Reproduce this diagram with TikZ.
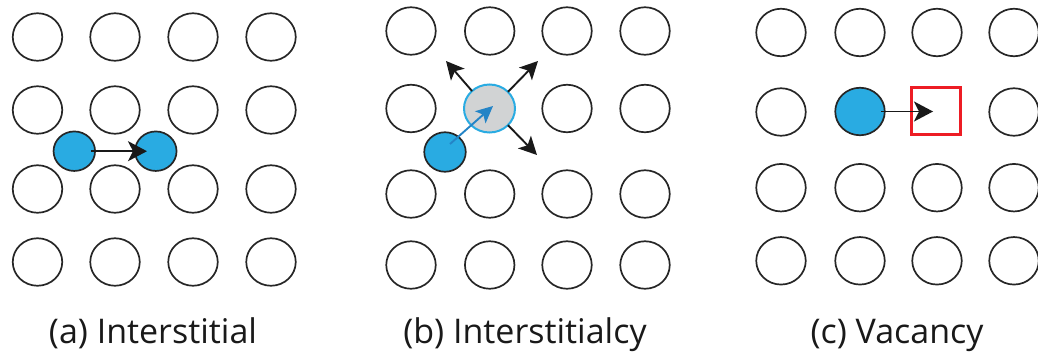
\documentclass[tikz,border=0pt]{standalone}
\usepackage{fontspec}
\setmainfont{Open Sans}
\usetikzlibrary{shapes.geometric,arrows.meta}
\definecolor{atomblue}{HTML}{29ABE2}
\definecolor{arrowblue}{HTML}{2484C6}
\definecolor{siltgray}{HTML}{D1D3D4}
\definecolor{vacred}{HTML}{ED1C24}
\tikzset{
  atom/.style={ellipse, draw=black!85, line width=1.7pt, minimum width=49.5pt, minimum height=47.5pt, inner sep=0pt, outer sep=0pt},
  moving/.style={ellipse, draw=black!85, fill=atomblue, line width=1.7pt, minimum width=41.5pt, minimum height=39.5pt, inner sep=0pt, outer sep=0pt},
  pushed/.style={ellipse, draw=atomblue, fill=siltgray, line width=2pt, minimum width=51pt, minimum height=48pt, inner sep=0pt, outer sep=0pt},
  hole/.style={rectangle, draw=vacred, line width=2.8pt, minimum width=49pt, minimum height=47pt, inner sep=0pt},
  jump/.style={black!90, line width=1.9pt, -{Stealth[length=19pt,width=20pt,inset=5pt]}},
  kick/.style={black!90, line width=1.9pt, -{Stealth[length=18pt,width=18pt,inset=4.5pt]}},
  push/.style={arrowblue, line width=1.9pt, -{Stealth[length=17pt,width=16pt,inset=4pt]}},
  caption/.style={anchor=base, font=\fontsize{34}{38}\selectfont, text=black!90, inner sep=0pt}
}
\begin{document}
\begin{tikzpicture}[x=1pt,y=-1pt]
\useasboundingbox (0,0) rectangle (1038,353);
\clip (0,0) rectangle (1038,353);

% (a) interstitial lattice
\foreach \c/\x in {1/37.5,2/115,3/193,4/271}
  \foreach \r/\y in {1/37,2/110,3/189,4/262}
    \node[atom] (a\r\c) at (\x,\y) {};
\node[moving] (afrom) at (74.3,151.2) {};
\node[moving] (ato) at (155.8,151.2) {};
\coordinate (astart) at (91,151.2);
\coordinate (aend) at (147,151.2);
\draw[jump] (astart) -- (aend);

% (b) interstitialcy lattice
\foreach \c/\x in {1/411,3/567,4/645}
  \foreach \r/\y in {1/31,2/108.5,3/194,4/265}
    \node[atom] (b\r\c) at (\x,\y) {};
\foreach \r/\y in {1/31,3/194,4/265}
  \node[atom] (b\r2) at (489.7,\y) {};
\node[pushed] (bpush) at (489.5,108.5) {};
\node[moving] (bfrom) at (445,152) {};
\coordinate (bstart) at (450,144);
\coordinate (bend) at (493,106);
\draw[push] (bstart) -- (bend);
\coordinate (bnw) at (446,61);
\coordinate (bne) at (538,61);
\coordinate (bse) at (537,155);
\draw[kick] (bpush.135) -- (bnw);
\draw[kick] (bpush.42) -- (bne);
\draw[kick] (bpush.-42) -- (bse);

% (c) vacancy lattice
\foreach \c/\x in {1/781,2/860,3/937,4/1014}
  \foreach \r/\y in {1/32.5,3/187.7,4/260.8}
    \node[atom] (c\r\c) at (\x,\y) {};
\node[atom] (c21) at (781,112) {};
\node[atom] (c24) at (1014,112) {};
\node[atom, fill=atomblue] (cfrom) at (860,111.5) {};
\node[hole] (cvac) at (936,111) {};
\coordinate (cstart) at (881,111.5);
\coordinate (cend) at (933,111.5);
\draw[jump] (cstart) -- (cend);

% captions
\node[caption] (capa) at (153,343) {(a) Interstitial};
\node[caption] (capb) at (525,343) {(b) Interstitialcy};
\node[caption] (capc) at (897,343) {(c) Vacancy};
\end{tikzpicture}
\end{document}
